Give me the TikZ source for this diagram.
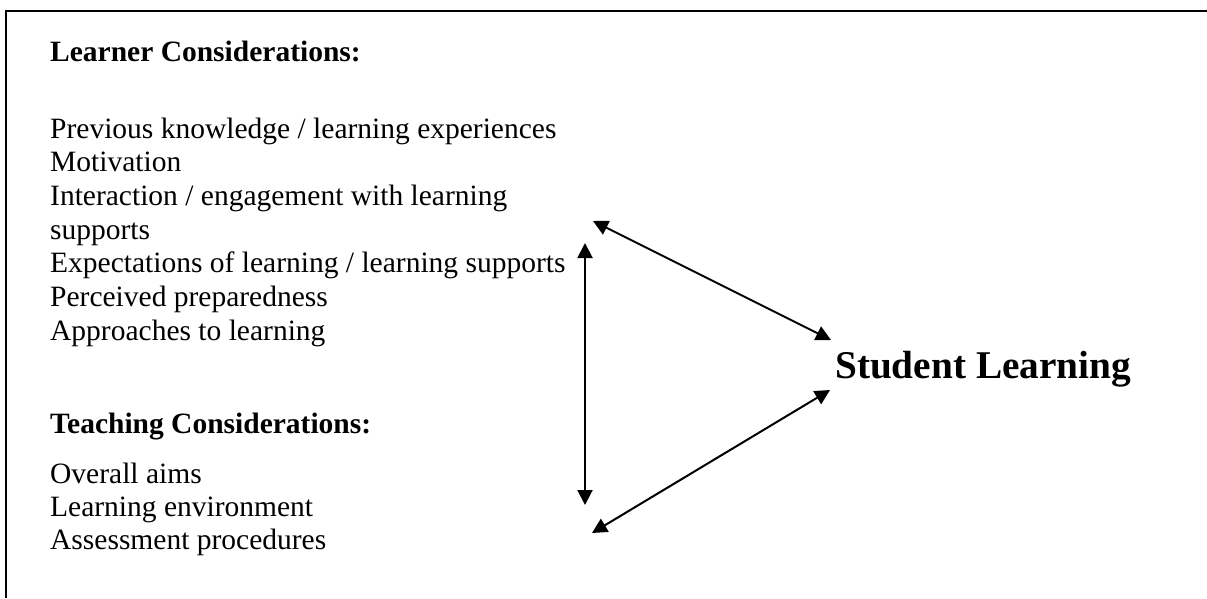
\documentclass[tikz,border=0pt]{standalone}
\usepackage{fontspec}
\setmainfont{Liberation Serif}
\usetikzlibrary{arrows.meta}
\begin{document}
\begin{tikzpicture}[x=1pt,y=-1pt,
  body/.style={anchor=base west,inner sep=0pt,font=\fontsize{29.5}{34}\selectfont},
  head/.style={body,font=\fontsize{29.5}{34}\selectfont\bfseries},
  title/.style={anchor=base west,inner sep=0pt,font=\fontsize{39.3}{46}\selectfont\bfseries},
  link/.style={line width=2pt,{Triangle[length=15pt,width=15pt]}-{Triangle[length=15pt,width=15pt]}}]
  \useasboundingbox (0,0) rectangle (1207,598);
  % frame (top and left edges)
  \draw[line width=2pt] (6,598) -- (6,11) -- (1207,11);

  % learner considerations
  \node[head] (lh) at (50,61) {Learner Considerations:};
  \node[body] (l1) at (50,138) {Previous knowledge / learning experiences};
  \node[body] (l2) at (50,171.7) {Motivation};
  \node[body] (l3) at (50,205.4) {Interaction / engagement with learning};
  \node[body] (l4) at (50,239.1) {supports};
  \node[body] (l5) at (50,272.8) {Expectations of learning / learning supports};
  \node[body] (l6) at (50,306.5) {Perceived preparedness};
  \node[body] (l7) at (50,340.2) {Approaches to learning};

  % teaching considerations
  \node[head] (th) at (50,433) {Teaching Considerations:};
  \node[body] (t1) at (50,483) {Overall aims};
  \node[body] (t2) at (50,516) {Learning environment};
  \node[body] (t3) at (50,549) {Assessment procedures};

  % outcome
  \node[title] (sl) at (835,378) {Student Learning};

  % arrow end points
  \coordinate (vtop) at (585,243);
  \coordinate (vbot) at (585,505);
  \coordinate (ul) at (593,221);
  \coordinate (ur) at (831,340);
  \coordinate (ll) at (592,533);
  \coordinate (lr) at (830,390);

  \draw[link] (vtop) -- (vbot);
  \draw[link] (ul) -- (ur);
  \draw[link] (ll) -- (lr);
\end{tikzpicture}
\end{document}
